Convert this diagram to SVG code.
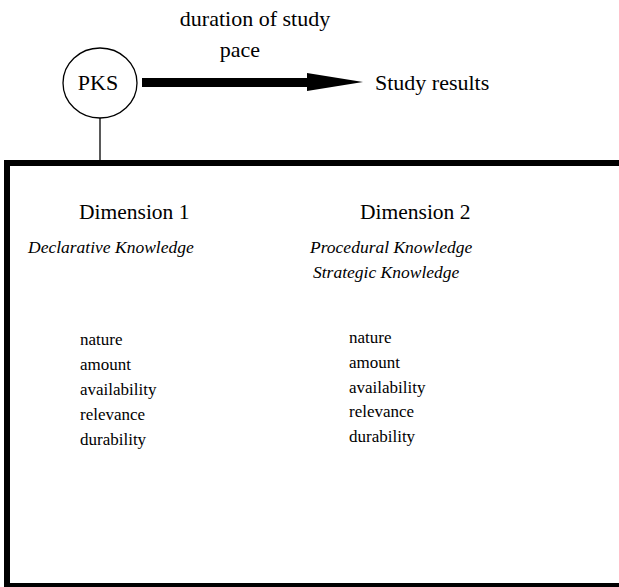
<svg xmlns="http://www.w3.org/2000/svg" width="619" height="587" viewBox="0 0 619 587" font-family="'Liberation Serif', 'Times New Roman', Times, serif">
<style>
text{font-family:'Liberation Serif', 'Times New Roman', Times, serif}
.big{font-size:22px}
.dim{font-size:21.5px}
.it{font-size:17.5px;font-style:italic}
.li{font-size:17px}
</style>
<rect width="619" height="587" fill="#fff"/>
<g id="connectors">
<line x1="100" y1="118" x2="100" y2="161" stroke="#000" stroke-width="1.3"/>
<rect x="142" y="78" width="167" height="9" fill="#000"/>
<polygon points="307,73 363,82 307,91" fill="#000"/>
</g>
<g id="pks">
<ellipse cx="100" cy="83" rx="37" ry="35" fill="#fff" stroke="#000" stroke-width="1.3"/>
<text class="big" x="98" y="90" text-anchor="middle">PKS</text>
</g>
<g id="labels">
<text class="big" x="255" y="26" text-anchor="middle">duration of study</text>
<text class="big" x="240" y="57" text-anchor="middle">pace</text>
</g>
<g id="results">
<text class="big" x="375" y="90">Study results</text>
</g>
<g id="box">
<rect x="7" y="163" width="640" height="423" fill="none" stroke="#000" stroke-width="6"/>
<text class="dim" x="79" y="219">Dimension 1</text>
<text class="it" x="28" y="253">Declarative Knowledge</text>
<text class="dim" x="360" y="219">Dimension 2</text>
<text class="it" x="310" y="253">Procedural Knowledge</text>
<text class="it" x="313" y="278">Strategic Knowledge</text>
<text class="li" x="80" y="345">nature</text>
<text class="li" x="80" y="370">amount</text>
<text class="li" x="80" y="395">availability</text>
<text class="li" x="80" y="420">relevance</text>
<text class="li" x="80" y="445">durability</text>
<text class="li" x="349" y="343">nature</text>
<text class="li" x="349" y="368">amount</text>
<text class="li" x="349" y="393">availability</text>
<text class="li" x="349" y="417">relevance</text>
<text class="li" x="349" y="442">durability</text>
</g>
</svg>
